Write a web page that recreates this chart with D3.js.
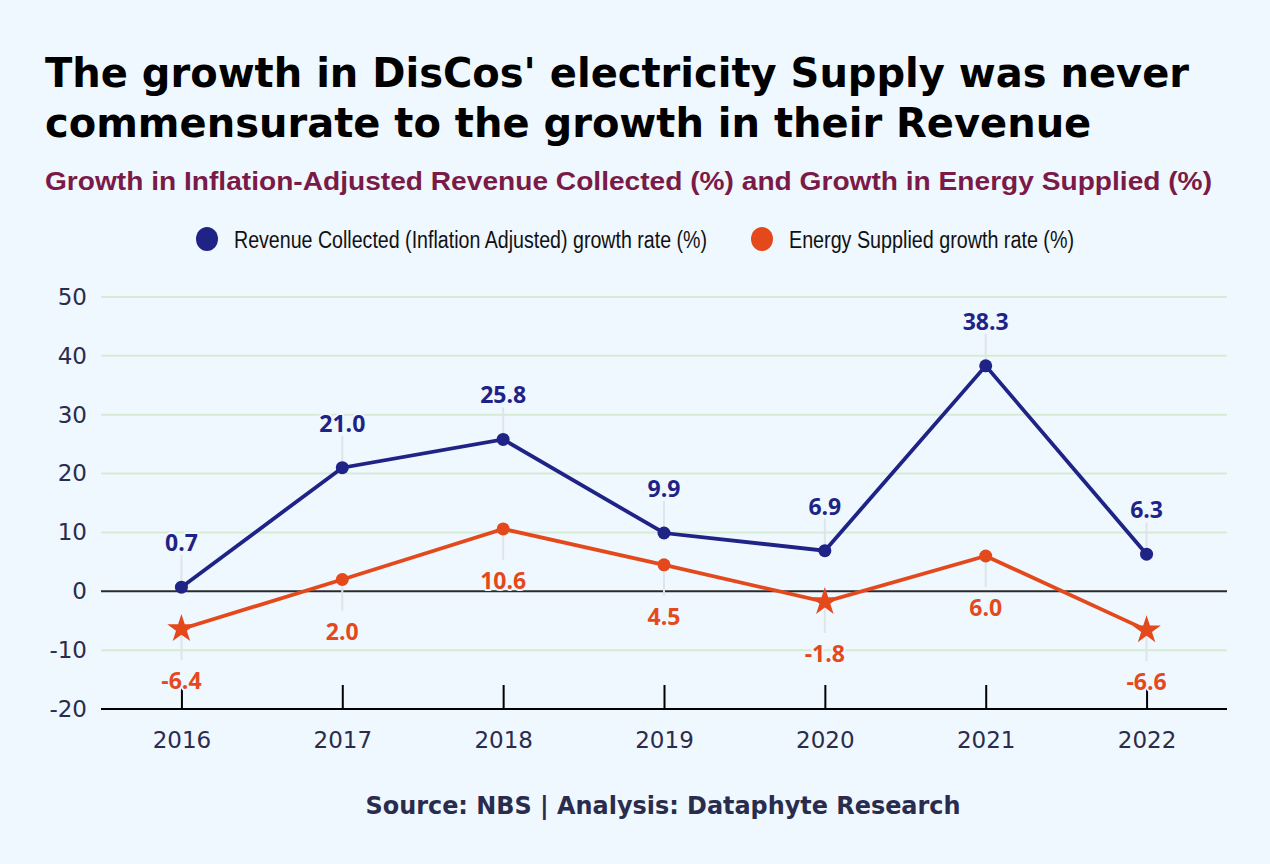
<!DOCTYPE html>
<html><head><meta charset="utf-8">
<script src="https://cdn.jsdelivr.net/npm/d3@7"></script>
<style>
html,body{margin:0;padding:0;background:#eff7ff;}
svg{display:block;}
</style></head><body>
<svg id="chart" width="1270" height="864"></svg>
<script>
const years = ["2016","2017","2018","2019","2020","2021","2022"];
const revenueGrowth = [0.7, 21.0, 25.8, 9.9, 6.9, 38.3, 6.3];
const energyGrowth = [-6.4, 2.0, 10.6, 4.5, -1.8, 6.0, -6.6];
const yTicks = [-20, -10, 0, 10, 20, 30, 40, 50];
const seriesNames = ["Revenue Collected (Inflation Adjusted) growth rate (%)", "Energy Supplied growth rate (%)"];
const titleLines = ["The growth in DisCos' electricity Supply was never", "commensurate to the growth in their Revenue"];
const subtitle = "Growth in Inflation-Adjusted Revenue Collected (%) and Growth in Energy Supplied (%)";
const source = "Source: NBS | Analysis: Dataphyte Research";

const BLUE = "#1e2385", ORANGE = "#e4491c", BG = "#eff7ff", TXT = "#2a2c4d";
const svg = d3.select("#chart");
svg.append("rect").attr("width",1270).attr("height",864).attr("fill",BG);

// Title
svg.append("g").selectAll("text").data(titleLines).join("text")
  .attr("x",45).attr("y",(d,i)=>87+i*50)
  .attr("font-family","DejaVu Sans").attr("font-weight","bold").attr("font-size",40)
  .attr("fill","#000").text(d=>d);
svg.append("text").attr("x",45).attr("y",190)
  .attr("font-family","Liberation Sans, Arial").attr("font-weight","bold").attr("font-size",26)
  .attr("textLength",1167).attr("lengthAdjust","spacingAndGlyphs")
  .attr("fill","#7a1a47").text(subtitle);

// Legend
const legX = [207, 762];
const legW = [473, 285];
const lg = svg.append("g");
[BLUE, ORANGE].forEach((c,i)=>{
  lg.append("ellipse").attr("cx",legX[i]).attr("cy",239).attr("rx",11).attr("ry",12).attr("fill",c);
  lg.append("text").attr("x",legX[i]+27).attr("y",248)
    .attr("font-family","Liberation Sans Narrow, Arial Narrow, Liberation Sans, sans-serif").attr("font-size",23)
    .attr("textLength",legW[i]).attr("lengthAdjust","spacingAndGlyphs")
    .attr("fill","#111").text(seriesNames[i]);
});

// Scales
const x = d3.scalePoint().domain(years).range([101,1227]).padding(0.5);
const y = d3.scaleLinear().domain([-20,50]).range([709,297]);

// Grid
const grid = svg.append("g");
grid.selectAll("line").data(yTicks.filter(t=>t!==-20 && t!==0)).join("line")
  .attr("x1",101).attr("x2",1227).attr("y1",d=>y(d)).attr("y2",d=>y(d))
  .attr("stroke","#d6ebd3").attr("stroke-width",2);
svg.append("line").attr("x1",101).attr("x2",1227).attr("y1",y(0)).attr("y2",y(0))
  .attr("stroke","#2a2a2a").attr("stroke-width",2);

// Y axis labels
const yAxis = svg.append("g").attr("transform","translate(101,0)")
  .call(d3.axisLeft(y).tickValues(yTicks).tickFormat(d=>String(d)).tickSize(0).tickPadding(14));
yAxis.select(".domain").remove();
yAxis.selectAll("text").attr("font-family","DejaVu Sans").attr("font-size",23).attr("fill",TXT);

// X axis
const xAxis = svg.append("g").attr("transform",`translate(0,${y(-20)})`)
  .call(d3.axisBottom(x).tickSize(-24).tickPadding(0).tickSizeOuter(0));
xAxis.select(".domain").attr("d","M101,0H1227").attr("stroke","#000").attr("stroke-width",2);
xAxis.selectAll(".tick line").attr("stroke","#000").attr("stroke-width",2);
xAxis.selectAll("text").attr("font-family","DejaVu Sans").attr("font-size",23).attr("fill",TXT)
  .attr("y",39).attr("dy",0);

// Leader lines
const leaders = svg.append("g").attr("stroke","#dfe4ea").attr("stroke-width",2);
years.forEach((yr,i)=>{
  const yr1 = y(revenueGrowth[i]);
  leaders.append("line").attr("x1",x(yr)).attr("x2",x(yr)).attr("y1",yr1).attr("y2",yr1-32);
  const ye = y(energyGrowth[i]);
  leaders.append("line").attr("x1",x(yr)).attr("x2",x(yr)).attr("y1",ye).attr("y2",ye+31);
});

// Lines
const line = d3.line().x((d,i)=>x(years[i])).y(d=>y(d));
svg.append("path").datum(revenueGrowth).attr("d",line).attr("fill","none").attr("stroke",BLUE).attr("stroke-width",3.8);
svg.append("path").datum(energyGrowth).attr("d",line).attr("fill","none").attr("stroke",ORANGE).attr("stroke-width",3.8);

// Markers
svg.append("g").selectAll("circle").data(revenueGrowth).join("circle")
  .attr("cx",(d,i)=>x(years[i])).attr("cy",d=>y(d)).attr("r",6.5).attr("fill",BLUE);
const star = d3.symbol().type(d3.symbolStar).size(250);
const em = svg.append("g");
energyGrowth.forEach((d,i)=>{
  if (d < 0) {
    em.append("path").attr("d",star).attr("transform",`translate(${x(years[i])},${y(d)})`).attr("fill",ORANGE);
  } else {
    em.append("circle").attr("cx",x(years[i])).attr("cy",y(d)).attr("r",6.5).attr("fill",ORANGE);
  }
});

// Data labels
const lab = svg.append("g").attr("font-family","Open Sans").attr("font-weight","bold").attr("font-size",23)
  .attr("text-anchor","middle").attr("paint-order","stroke").attr("stroke",BG).attr("stroke-width",4).attr("stroke-linejoin","round");
revenueGrowth.forEach((d,i)=>{
  lab.append("text").attr("x",x(years[i])).attr("y",y(d)-44).attr("dy","0.35em").attr("fill",BLUE).text(d.toFixed(1));
});
energyGrowth.forEach((d,i)=>{
  lab.append("text").attr("x",x(years[i])).attr("y",y(d)+52).attr("dy","0.35em").attr("fill",ORANGE).text(d.toFixed(1));
});

// Source
svg.append("text").attr("x",663).attr("y",814).attr("text-anchor","middle")
  .attr("font-family","DejaVu Sans Condensed, DejaVu Sans").attr("font-weight","bold").attr("font-size",25)
  .attr("textLength",595).attr("lengthAdjust","spacingAndGlyphs")
  .attr("fill",TXT).text(source);
</script>
</body></html>
